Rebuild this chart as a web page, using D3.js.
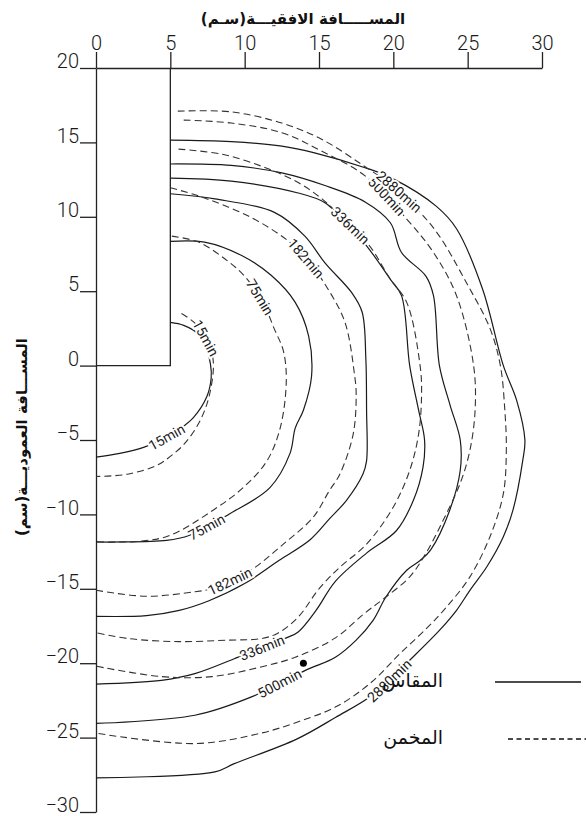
<!DOCTYPE html>
<html>
<head>
<meta charset="utf-8">
<script src="https://cdn.jsdelivr.net/npm/d3@7"></script>
<style>
  body { margin: 0; background: #fff; }
  svg { display: block; }
  .axis text { font-family: Roboto, "DejaVu Sans", sans-serif; font-weight: 300; font-size: 20px; fill: #1a1a1a; }
  .axis path, .axis line { stroke: #222; stroke-width: 1.3; }
  .lbl { font-family: Roboto, "DejaVu Sans", sans-serif; font-weight: 400; font-size: 14px; fill: #1a1a1a;
         stroke: #fff; stroke-width: 4px; paint-order: stroke; }
  .ar { font-family: "DejaVu Sans", sans-serif; fill: #111; }
</style>
</head>
<body>
<div id="chart"></div>
<script>
// axis ticks
const xTicks = [0, 5, 10, 15, 20, 25, 30];
const yTicks = [20, 15, 10, 5, 0, -5, -10, -15, -20, -25, -30];

// the hole (box) outline, in cm
const boxEdge = [[5, 20], [5, 0], [0, 0]];

// measured fronts (solid), [x cm, y cm], from the wall round to the axis
const m15 = [[5,2.9],[5.9,2.7],[6.9,2.1],[7.45,1.1],[7.7,0.1],[7.75,-0.8],[7.45,-2.1],[6.55,-3.5],[5.65,-4.25],[4.5,-4.95],[3.2,-5.5],[1.6,-5.9],[0,-6.15]];
const m75 = [[5,8.35],[7.3,8.3],[9.8,7.4],[11.8,6.05],[13.4,4.25],[14.3,2.0],[14.5,-0.7],[13.95,-3.0],[13.4,-4.2],[13.05,-5.9],[11.7,-8.2],[9.0,-9.95],[6.3,-11.4],[4.75,-11.75],[0,-11.85]];
const m182 = [[5,11.55],[8.0,11.2],[12.0,10.3],[14.05,8.7],[15.4,6.9],[17.2,4.9],[17.9,3.6],[18.15,0.5],[18.2,-3],[18.2,-6.4],[17.95,-7.3],[16.85,-9.05],[15.7,-10.3],[14.4,-11.7],[12.3,-13.1],[10.0,-14.65],[7.6,-15.8],[5.6,-16.45],[3.4,-16.8],[0,-16.85]];
const m336 = [[5,12.6],[9.1,12.4],[13.6,11.6],[15.4,10.95],[16.8,9.6],[18.2,8.05],[19.8,5.8],[20.55,4.7],[21.1,0.0],[21.7,-3.0],[22.1,-5.0],[22.0,-6.8],[21.35,-9.05],[20.2,-11.1],[18.2,-12.6],[16.1,-14.5],[14.8,-16.45],[13.6,-17.9],[12.8,-18.3],[9.3,-19.7],[6.65,-20.7],[4.4,-21.15],[0,-21.4]];
const m500 = [[5,13.55],[9.1,13.45],[12.5,12.95],[15.4,12.1],[18.1,11.0],[19.8,9.6],[20.55,7.6],[22.2,6.0],[22.7,4.7],[23.1,0.0],[23.8,-2.6],[24.5,-5.0],[24.5,-7.05],[23.8,-9.7],[22.5,-12.4],[21.8,-13.1],[20.9,-13.75],[19.5,-15.55],[18.65,-17.1],[17.5,-18.45],[16.1,-19.6],[14.05,-20.5],[10.5,-22.25],[6.65,-23.5],[0,-24.05]];
const m2880 = [[5,15.15],[9.1,15.05],[12.5,14.75],[14.7,14.3],[18.1,13.3],[19.9,12.6],[22.9,10.7],[24.25,9.2],[26.0,5.15],[27.4,0.0],[28.3,-2.35],[28.85,-5.0],[28.7,-6.4],[28.05,-9.7],[27.4,-11.5],[26.3,-13.5],[25.15,-15.1],[24.25,-16.45],[23.1,-17.8],[21.1,-19.8],[18.8,-22.0],[16.1,-23.65],[13.5,-25.1],[9.3,-26.75],[8.0,-27.3],[0,-27.7]];

// estimated fronts (dashed)
const e15 = [[5.75,3.5],[6.6,2.9],[7.35,1.9],[7.8,0.8],[7.9,-0.1],[7.6,-2.1],[7.0,-3.7],[6.0,-5.2],[5.0,-6.1],[4.1,-6.7],[2.1,-7.3],[0,-7.45]];
const e75 = [[5.1,8.7],[6.9,8.3],[8.7,7.15],[10.0,6.0],[11.2,4.3],[12.0,2.45],[12.6,1.0],[12.8,-1.0],[12.4,-4.15],[11.5,-6.4],[9.9,-8.2],[7.9,-9.7],[5.0,-11.4],[3.0,-11.8],[0,-11.85]];
const e182 = [[5,11.95],[6.9,11.4],[10.25,10.05],[12.9,8.4],[14.3,7.0],[15.6,5.15],[16.75,2.9],[17.4,-0.7],[17.5,-1.9],[17.3,-4.6],[16.4,-7.3],[15.7,-8.4],[14.6,-10.2],[12.6,-12.0],[10.5,-13.7],[9.0,-14.5],[7.8,-15.0],[6.65,-15.2],[3.4,-15.5],[0,-15.1]];
const e336 = [[5.55,14.55],[8.5,14.2],[11.4,13.3],[13.6,12.3],[15.2,11.2],[16.8,9.7],[18.4,8.05],[19.8,5.8],[20.9,4.25],[21.8,0.0],[21.9,-1.9],[21.7,-4.6],[21.1,-7.05],[20.0,-9.5],[18.2,-12.0],[16.4,-13.55],[15.0,-15.0],[13.6,-16.9],[12.2,-18.0],[11.1,-18.35],[8.9,-18.45],[5.6,-18.55],[2.2,-18.35],[0,-17.95]];
const e500 = [[5.9,16.5],[9.1,16.3],[12.5,15.65],[15.2,14.4],[18.1,12.75],[20.9,9.85],[22.7,7.6],[24.25,4.7],[25.4,0.0],[25.5,-3.0],[25.15,-5.7],[24.5,-7.9],[23.35,-10.4],[22.2,-12.6],[21.1,-14.2],[19.5,-15.55],[18.0,-16.7],[16.1,-18.3],[13.4,-19.6],[11.1,-20.25],[7.8,-20.9],[4.4,-20.9],[0,-20.2]];
const e2880 = [[5.5,17.1],[9.1,17.05],[12.5,16.3],[15.2,15.2],[17.9,13.5],[19.9,12.1],[21.8,10.3],[23.1,8.7],[24.9,5.6],[26.5,2.5],[27.2,0.0],[27.5,-3.0],[27.6,-5.7],[27.4,-8.6],[26.5,-11.5],[25.15,-14.2],[23.6,-16.2],[22.3,-17.6],[20.45,-19.35],[18.5,-21.3],[16.2,-22.9],[13.7,-23.9],[11.1,-24.7],[6.65,-25.4],[0,-24.7]];

// contour labels: text, curve, spot (cm) the label snaps to
const labelSpots = [
  ["15min", "e15", 7.1, 1.7],   ["15min", "m15", 4.8, -4.9],
  ["75min", "e75", 10.9, 4.5],  ["75min", "m75", 7.5, -10.9],
  ["182min", "e182", 14.0, 7.1], ["182min", "e182", 9.1, -14.7],
  ["336min", "e336", 17.2, 9.5], ["336min", "m336", 11.2, -19.0],
  ["500min", "e500", 19.5, 11.3], ["500min", "m500", 12.4, -21.4],
  ["2880min", "e2880", 20.3, 11.6], ["2880min", "m2880", 19.8, -21.2]
];

// observation point
const dotPoint = [13.95, -20.0];

const legendItems = [["المقاس", false], ["المخمن", true]];

const W = 586, H = 816;
const margin = {top: 68, right: 44, bottom: 4, left: 96};
const width = W - margin.left - margin.right;
const height = H - margin.top - margin.bottom;

const svg = d3.select('#chart').append('svg')
    .attr('width', W)
    .attr('height', H);

const g = svg.append('g')
    .attr('transform', 'translate(' + margin.left + ',' + margin.top + ')');

const x = d3.scaleLinear().domain([0, 30]).range([0, width]);
const y = d3.scaleLinear().domain([20, -30]).range([0, height]);

// axes
g.append('g').attr('class', 'axis')
    .call(d3.axisTop(x).tickValues(xTicks).tickSize(16).tickSizeOuter(0).tickPadding(2));

g.append('g').attr('class', 'axis')
    .call(d3.axisLeft(y).tickValues(yTicks).tickSize(16).tickSizeOuter(0).tickPadding(1))
    .selectAll('text').attr('dy', '-0.02em');

const line = d3.line()
    .x(d => x(d[0]))
    .y(d => y(d[1]));

g.append('path')
    .attr('d', line(boxEdge))
    .attr('fill', 'none')
    .attr('stroke', '#222')
    .attr('stroke-width', 1.3);

// fronts
const curves = {m15, m75, m182, m336, m500, m2880, e15, e75, e182, e336, e500, e2880};
const smooth = d3.line()
    .x(d => x(d[0]))
    .y(d => y(d[1]))
    .curve(d3.curveCatmullRom.alpha(0.5));

const nodes = {};
Object.keys(curves).forEach(k => {
  const dashed = k[0] === 'e';
  nodes[k] = g.append('path')
      .attr('d', smooth(curves[k]))
      .attr('fill', 'none')
      .attr('stroke', dashed ? '#333' : '#1a1a1a')
      .attr('stroke-width', dashed ? 1.1 : 1.2)
      .attr('stroke-dasharray', dashed ? '7,4' : null)
      .node();
});

// labels along the fronts
labelSpots.forEach(([txt, k, ax, ay]) => {
  const node = nodes[k];
  const total = node.getTotalLength();
  const px = x(ax), py = y(ay);
  let best = 0, bestD = Infinity;
  for (let l = 0; l <= total; l += 1) {
    const p = node.getPointAtLength(l);
    const d = (p.x - px) ** 2 + (p.y - py) ** 2;
    if (d < bestD) { bestD = d; best = l; }
  }
  const p = node.getPointAtLength(best);
  const a = node.getPointAtLength(Math.max(0, best - 5));
  const b = node.getPointAtLength(Math.min(total, best + 5));
  let ang = Math.atan2(b.y - a.y, b.x - a.x) * 180 / Math.PI;
  if (ang > 90) ang -= 180;
  if (ang < -90) ang += 180;
  g.append('text')
      .attr('class', 'lbl')
      .attr('transform', 'translate(' + p.x + ',' + p.y + ') rotate(' + ang + ')')
      .attr('text-anchor', 'middle')
      .attr('dy', '0.35em')
      .text(txt);
});

g.append('circle')
    .attr('cx', x(dotPoint[0]))
    .attr('cy', y(dotPoint[1]))
    .attr('r', 3.5)
    .attr('fill', '#000');

// titles
svg.append('text')
    .attr('class', 'ar')
    .attr('x', 303).attr('y', 24)
    .attr('text-anchor', 'middle')
    .attr('direction', 'rtl')
    .style('font-weight', 'bold')
    .style('font-size', '15px')
    .text('المســـــافة الافقيـــة(سـم)');

svg.append('text')
    .attr('class', 'ar')
    .attr('transform', 'translate(27,437) rotate(-90)')
    .attr('text-anchor', 'middle')
    .attr('direction', 'rtl')
    .style('font-weight', 'bold')
    .style('font-size', '15px')
    .text('المســـافة العموديـــة(سم)');

// legend
const legend = svg.append('g');
legendItems.forEach(([name, dashed], i) => {
  const ly = 682 + i * 57;
  legend.append('line')
      .attr('x1', dashed ? 508 : 495).attr('x2', dashed ? 586 : 581)
      .attr('y1', ly).attr('y2', ly)
      .attr('stroke', '#111')
      .attr('stroke-width', 1.3)
      .attr('stroke-dasharray', dashed ? '5,3.5' : null);
  legend.append('text')
      .attr('class', 'ar')
      .attr('x', 443).attr('y', ly + 5)
      .attr('text-anchor', 'end')
      .style('font-size', '19px')
      .text(name);
});
</script>
</body>
</html>
